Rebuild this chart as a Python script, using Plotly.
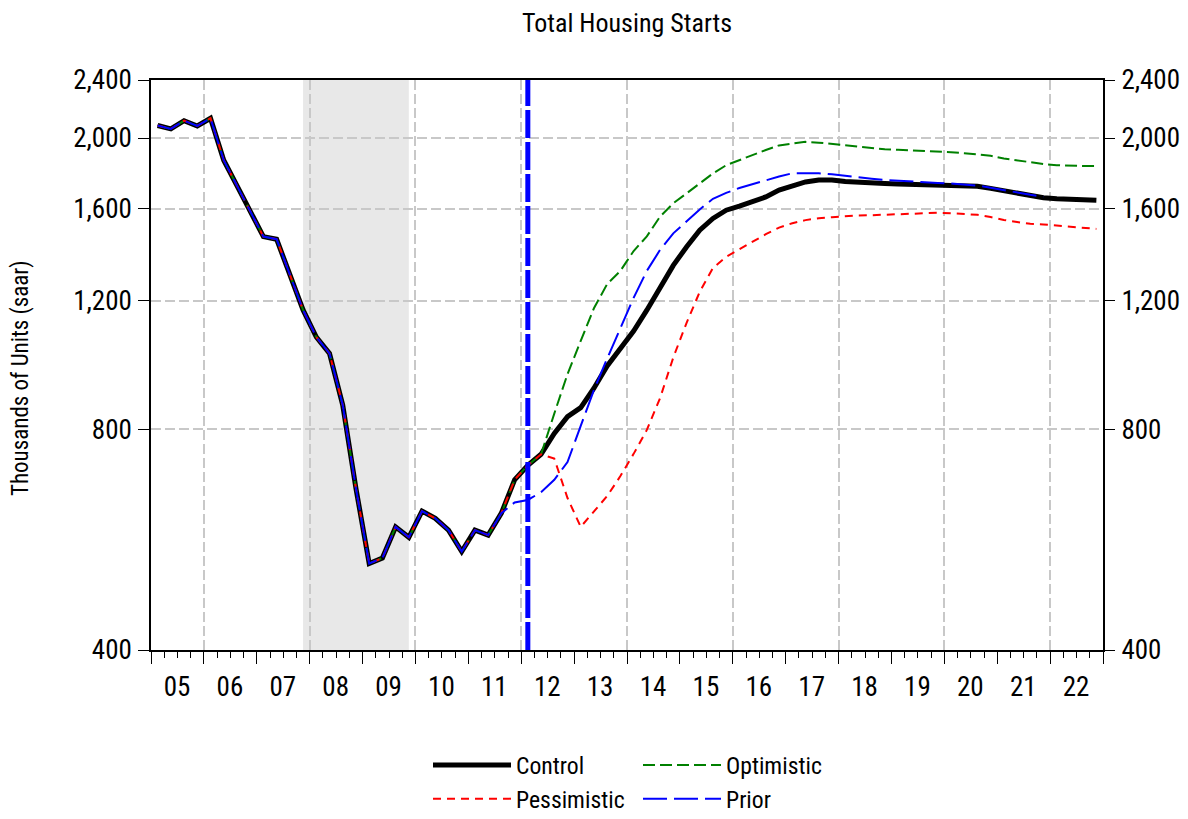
import plotly.graph_objects as go
import numpy as np

# ---------------- data ----------------
years = list(range(2005, 2023))
year_labels = [f"{y % 100:02d}" for y in years]
quarters = [f"{y}Q{q}" for y in years for q in range(1, 5)]

control = [2080, 2058, 2112, 2077, 2128, 1865, 1722, 1590, 1467, 1455, 1300, 1165,
           1070, 1016, 864, 665, 525, 534, 589, 570, 619, 605, 583, 545,
           583, 574, 615, 683, 715, 740, 790, 833, 857, 911, 977, 1030,
           1090, 1164, 1249, 1340, 1420, 1497, 1553, 1594, 1614, 1636, 1662, 1698,
           1723, 1742, 1752, 1753, 1744, 1739, 1736, 1734, 1731, 1729, 1727, 1725,
           1724, 1721, 1718, 1707, 1694, 1681, 1669, 1658, 1652, 1648, 1645, 1644]

optimistic = [2080, 2058, 2112, 2077, 2128, 1865, 1722, 1590, 1467, 1455, 1300, 1165,
              1070, 1016, 864, 665, 525, 534, 589, 570, 619, 605, 583, 545,
              583, 574, 615, 683, 715, 740, 841, 952, 1057, 1171, 1264, 1317,
              1402, 1468, 1562, 1629, 1680, 1734, 1789, 1836, 1866, 1894, 1926, 1954,
              1966, 1976, 1971, 1963, 1953, 1944, 1935, 1930, 1927, 1924, 1921, 1918,
              1913, 1907, 1901, 1891, 1875, 1864, 1852, 1843, 1836, 1833, 1832, 1832]

pessimistic = [2080, 2058, 2112, 2077, 2128, 1865, 1722, 1590, 1467, 1455, 1300, 1165,
               1070, 1016, 864, 665, 525, 534, 589, 570, 619, 605, 583, 545,
               583, 574, 615, 683, 715, 740, 730, 645, 589, 619, 649, 691,
               741, 799, 883, 1003, 1118, 1233, 1329, 1377, 1410, 1442, 1478, 1509,
               1530, 1545, 1554, 1559, 1564, 1568, 1569, 1571, 1573, 1576, 1579, 1581,
               1579, 1576, 1571, 1560, 1546, 1536, 1527, 1524, 1519, 1513, 1507, 1503]

prior = [2080, 2058, 2112, 2077, 2128, 1865, 1722, 1590, 1467, 1455, 1300, 1165,
         1070, 1016, 864, 665, 525, 534, 589, 570, 619, 605, 583, 545,
         583, 574, 615, 636, 641, 657, 683, 722, 809, 906, 1000, 1101,
         1210, 1317, 1407, 1482, 1537, 1598, 1652, 1683, 1709, 1731, 1750, 1772,
         1790, 1790, 1790, 1784, 1775, 1767, 1760, 1753, 1748, 1744, 1739, 1736,
         1733, 1728, 1722, 1711, 1697, 1685, 1673, 1663]

y_ticks = [400, 800, 1200, 1600, 2000, 2400]
y_ticktext = ["400", "800", "1,200", "1,600", "2,000", "2,400"]

forecast_start = "2012Q1"
recession = ("2007Q4", "2009Q4")


# ---------------- helpers ----------------
def qpos(q):
    """Position of a quarter on the numeric time axis (mid-quarter)."""
    y, qq = q.split("Q")
    return int(y) + (int(qq) - 0.5) / 4.0


xq = [qpos(q) for q in quarters]

FONT = "Roboto Condensed, Liberation Sans Narrow, DejaVu Sans Condensed, sans-serif"
TICK_SIZE = 27

# page has an 8px body margin: figure sits at (8, 8)
W, H = 1172, 811
PL, PR, PT, PB = 151, 1103, 80, 650          # target plot box in page pixels
ML, MT = PL - 8, PT - 8
MR, MB = W - (PR - 8), H - (PB - 8)
PW, PH = PR - PL, PB - PT

fig = go.Figure()

fig.add_trace(go.Scatter(x=xq[:len(control)], y=control, mode="lines", name="Control",
                         legendgroup="g1",
                         line=dict(color="black", width=5)))
fig.add_trace(go.Scatter(x=xq[:len(optimistic)], y=optimistic, mode="lines", name="Optimistic",
                         legendgroup="g2",
                         line=dict(color="#008000", width=2, dash="12px,5px")))
fig.add_trace(go.Scatter(x=xq[:len(pessimistic)], y=pessimistic, mode="lines", name="Pessimistic",
                         legendgroup="g1",
                         line=dict(color="#ff0000", width=2, dash="8px,6px")))
fig.add_trace(go.Scatter(x=xq[:len(prior)], y=prior, mode="lines", name="Prior",
                         legendgroup="g2",
                         line=dict(color="#0000ff", width=2, dash="24px,7px")))
# invisible trace carrying the overlay axes (grid every 2 years, right-hand labels)
fig.add_trace(go.Scatter(x=[], y=[], xaxis="x2", yaxis="y2", showlegend=False,
                         hoverinfo="skip"))

# recession shading
fig.add_vrect(x0=qpos(recession[0]), x1=qpos(recession[1]), fillcolor="#e8e8e8",
              line_width=0, layer="below")
# forecast start line
fig.add_vline(x=qpos(forecast_start), line=dict(color="#0000ff", width=5, dash="28px,4px"),
              layer="above")

xr = [years[0], years[-1] + 1]
yr = [np.log10(y_ticks[0]), np.log10(y_ticks[-1])]
grid = dict(gridcolor="#c8c8c8", gridwidth=1.5, griddash="10px,4px")

fig.update_layout(
    width=W, height=H, autosize=False,
    margin=dict(l=ML, r=MR, t=MT, b=MB, autoexpand=False),
    paper_bgcolor="white", plot_bgcolor="white",
    font=dict(family=FONT, size=24, color="black"),
    title=dict(text="Total Housing Starts", x=0.5, xref="paper", xanchor="center",
               y=1 - (23 - 8) / H, yref="container", yanchor="middle",
               font=dict(family=FONT, size=26, color="black")),
    xaxis=dict(range=xr, showgrid=False, zeroline=False, automargin=False,
               tickmode="array", tickvals=years + [years[-1] + 1],
               ticktext=year_labels + [""], ticklabelshift=26, ticklabelstandoff=0,
               ticks="outside", ticklen=12, tickwidth=1, tickcolor="black",
               minor=dict(dtick=0.25, tick0=years[0], ticks="outside", ticklen=6,
                          tickwidth=1, tickcolor="black", showgrid=False),
               showline=True, linecolor="black", linewidth=1.5, mirror=True,
               tickfont=dict(family=FONT, size=TICK_SIZE)),
    xaxis2=dict(range=xr, overlaying="x", anchor="y", showgrid=True, **grid,
                tickmode="array", tickvals=years[1::2], showticklabels=False,
                ticks="", showline=False, zeroline=False, automargin=False),
    yaxis=dict(type="log", range=yr, tickmode="array", tickvals=y_ticks, ticktext=y_ticktext,
               showgrid=True, **grid, zeroline=False, automargin=False,
               ticks="outside", ticklen=11, tickwidth=1, tickcolor="black", ticklabelstandoff=1,
               showline=True, linecolor="black", linewidth=1.5, mirror=True,
               tickfont=dict(family=FONT, size=TICK_SIZE)),
    yaxis2=dict(type="log", range=yr, overlaying="y", side="right", anchor="x",
                tickmode="array", tickvals=y_ticks, ticktext=y_ticktext,
                showgrid=False, zeroline=False, automargin=False,
                ticks="outside", ticklen=11, tickwidth=1, tickcolor="black", ticklabelstandoff=1,
                showline=False, tickfont=dict(family=FONT, size=TICK_SIZE)),
    legend=dict(orientation="h", traceorder="grouped", x=(428 - PL) / PW, xanchor="left",
                y=(PB - 743) / PH, yanchor="top", itemwidth=78, tracegroupgap=10,
                entrywidth=117, entrywidthmode="pixels",
                font=dict(family=FONT, size=23.7), bgcolor="rgba(0,0,0,0)"),
    annotations=[dict(text="Thousands of Units (saar)", textangle=-90, showarrow=False,
                      xref="paper", yref="paper", x=(20 - PL) / PW, y=(PB - 378) / PH,
                      xanchor="center", yanchor="middle",
                      font=dict(family=FONT, size=23, color="black"))],
)

fig.write_html("out.html")
